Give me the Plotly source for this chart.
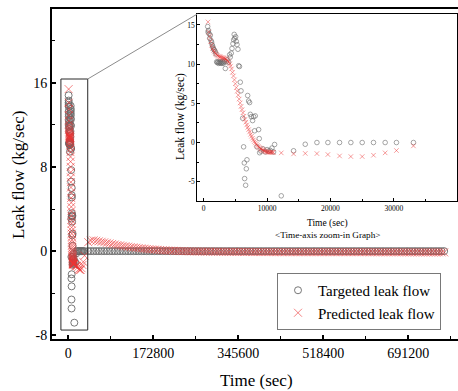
import plotly.graph_objects as go

# ---------------- data ----------------
# Targeted leak flow, early transient (sec, kg/sec)
target_time_early = [635, 690, 760, 845, 950, 1055, 1160, 1260, 1320, 1420, 1480, 1580, 1690, 1840, 1950,
                     2050, 2150, 2250, 2350, 2450, 2550, 2650, 2750, 2850, 2950, 3050, 3150, 3250, 3420,
                     3550, 3700, 3940, 4100, 4200, 4360, 4470, 4620, 4730, 4820, 4890, 5050, 5150, 5260,
                     5410, 5520, 5650, 5780, 5890, 6150, 6300, 6410, 6460, 6620, 6730, 6830, 6940, 7090,
                     7250, 7360, 7510, 7720, 7880, 8040, 8140, 8400, 8670, 8770, 8830, 9040, 9350, 9720,
                     10000, 10240, 10500, 10770, 11030, 11190, 12240, 14180, 16020, 17860, 19590, 21430,
                     23210, 25000, 26780, 28620, 30400, 33080]
target_flow_early = [14.8, 14.1, 14.3, 13.9, 13.3, 13.7, 13.0, 12.8, 12.5, 12.3, 12.1, 11.9, 11.8, 11.6, 11.3,
                     10.3, 10.2, 10.3, 10.1, 10.25, 10.15, 10.3, 10.1, 10.2, 10.35, 10.1, 10.2, 10.4, 9.45,
                     10.3, 10.55, 10.25, 11.2, 10.9, 11.4, 12.0, 12.6, 13.1, 13.8, 13.3, 13.5, 12.9, 12.5,
                     11.9, 9.8, 9.7, 7.7, 6.6, 3.1, -0.55, -2.6, -4.6, -5.45, -3.35, -2.2, 6.0, 5.3,
                     5.1, 3.6, 3.3, 2.8, 3.3, 1.5, 3.4, -0.55, 1.65, 0.5, -1.3, -1.1, -0.8, -1.2,
                     -0.9, -1.1, -1.0, -0.7, -1.2, -0.25, -6.8, -1.05, -0.22, 0.0, 0.0, 0.0,
                     0.0, 0.0, 0.0, 0.0, 0.0, 0.0]

# Predicted leak flow, early transient
pred_time_early = [688, 800, 950, 1100, 1250, 1400, 1550, 1700, 1850, 2000, 2150, 2300, 2450, 2600, 2750,
                   2900, 3050, 3200, 3350, 3500, 3650, 3800, 3950, 4100, 4250, 4400, 4550, 4700, 4850,
                   5000, 5150, 5300, 5450, 5600, 5750, 5900, 6050, 6200, 6350, 6500, 6650, 6800, 6950,
                   7100, 7250, 7400, 7550, 7700, 7850, 8000, 8150, 8300, 8450, 8600, 8750, 8900, 9050,
                   9200, 9350, 9500, 9650, 9800, 9950, 10100, 10250, 10400, 10550, 10700, 10850, 11000,
                   12240, 14180, 16020, 17860, 19590, 21430, 23210, 25000, 26780, 28620, 30400, 33080]
pred_flow_early = [15.39, 14.1, 13.5, 12.9, 12.4, 12.0, 11.75, 11.55, 11.35, 11.25, 11.12, 11.02, 10.98, 10.93, 10.88,
                   10.84, 10.81, 10.77, 10.72, 10.65, 10.55, 10.42, 10.28, 10.05, 9.75, 9.4, 8.95, 8.5, 8.0,
                   7.5, 7.0, 6.55, 6.05, 5.55, 5.05, 4.6, 4.2, 3.8, 3.35, 2.95, 2.6, 2.25, 1.95,
                   1.65, 1.35, 1.05, 0.8, 0.55, 0.33, 0.13, -0.05, -0.22, -0.38, -0.5, -0.62, -0.72, -0.82,
                   -0.9, -0.97, -1.04, -1.1, -1.15, -1.19, -1.21, -1.23, -1.24, -1.25, -1.25, -1.25, -1.25,
                   -1.32, -1.45, -1.39, -1.41, -1.53, -1.71, -1.79, -1.79, -1.62, -1.32, -1.02, -0.43]

# Long-term record (sec)
time_long = [40500, 45900, 51300, 56700, 62100, 67500, 72900, 78300, 83700, 89100,
             94500, 99900, 105300, 110700, 116100, 121500, 126900, 132300, 137700, 143100,
             148500, 153900, 159300, 164700, 170100, 175500, 180900, 186300, 191700, 197100,
             202500, 207900, 213300, 218700, 224100, 229500, 234900, 240300, 245700, 251100,
             256500, 261900, 267300, 272700, 278100, 283500, 288900, 294300, 299700, 305100,
             310500, 315900, 321300, 326700, 332100, 337500, 342900, 348300, 353700, 359100,
             364500, 369900, 375300, 380700, 386100, 391500, 396900, 402300, 407700, 413100,
             418500, 423900, 429300, 434700, 440100, 445500, 450900, 456300, 461700, 467100,
             472500, 477900, 483300, 488700, 494100, 499500, 504900, 510300, 515700, 521100,
             526500, 531900, 537300, 542700, 548100, 553500, 558900, 564300, 569700, 575100,
             580500, 585900, 591300, 596700, 602100, 607500, 612900, 618300, 623700, 629100,
             634500, 639900, 645300, 650700, 656100, 661500, 666900, 672300, 677700, 683100,
             688500, 693900, 699300, 704700, 710100, 715500, 720900, 726300, 731700, 737100,
             742500, 747900, 753300, 758700, 764100]
target_flow_long = [0.0, 0.0, 0.0, 0.0, 0.0, 0.0, 0.0, 0.0, 0.0, 0.0,
                    0.0, 0.0, 0.0, 0.0, 0.0, 0.0, 0.0, 0.0, 0.0, 0.0,
                    0.0, 0.0, 0.0, 0.0, 0.0, 0.0, 0.0, 0.0, 0.0, 0.0,
                    0.0, 0.0, 0.0, 0.0, 0.0, 0.0, 0.0, 0.0, 0.0, 0.0,
                    0.0, 0.0, 0.0, 0.0, 0.0, 0.0, 0.0, 0.0, 0.0, 0.0,
                    0.0, 0.0, 0.0, 0.0, 0.0, 0.0, 0.0, 0.0, 0.0, 0.0,
                    0.0, 0.0, 0.0, 0.0, 0.0, 0.0, 0.0, 0.0, 0.0, 0.0,
                    0.0, 0.0, 0.0, 0.0, 0.0, 0.0, 0.0, 0.0, 0.0, 0.0,
                    0.0, 0.0, 0.0, 0.0, 0.0, 0.0, 0.0, 0.0, 0.0, 0.0,
                    0.0, 0.0, 0.0, 0.0, 0.0, 0.0, 0.0, 0.0, 0.0, 0.0,
                    0.0, 0.0, 0.0, 0.0, 0.0, 0.0, 0.0, 0.0, 0.0, 0.0,
                    0.0, 0.0, 0.0, 0.0, 0.0, 0.0, 0.0, 0.0, 0.0, 0.0,
                    0.0, 0.0, 0.0, 0.0, 0.0, 0.0, 0.0, 0.0, 0.0, 0.0,
                    0.0, 0.0, 0.0, 0.0, 0.0]
pred_flow_long = [0.85, 1.0, 1.02, 0.98, 0.93, 0.88, 0.83, 0.78, 0.73, 0.68,
                  0.63, 0.58, 0.54, 0.5, 0.46, 0.42, 0.38, 0.35, 0.32, 0.29,
                  0.26, 0.23, 0.2, 0.18, 0.16, 0.14, 0.12, 0.1, 0.08, 0.07,
                  0.05, 0.04, 0.03, 0.02, 0.01, 0.0, 0.0, -0.01, -0.02, -0.02,
                  -0.03, -0.03, -0.04, -0.04, -0.05, -0.05, -0.05, -0.06, -0.06, -0.06,
                  -0.06, -0.07, -0.07, -0.07, -0.07, -0.07, -0.08, -0.08, -0.08, -0.08,
                  -0.08, -0.08, -0.09, -0.09, -0.09, -0.09, -0.09, -0.09, -0.09, -0.09,
                  -0.1, -0.1, -0.1, -0.1, -0.1, -0.1, -0.1, -0.1, -0.1, -0.1,
                  -0.1, -0.1, -0.1, -0.1, -0.1, -0.1, -0.1, -0.1, -0.1, -0.1,
                  -0.1, -0.1, -0.1, -0.1, -0.1, -0.1, -0.1, -0.1, -0.1, -0.1,
                  -0.1, -0.1, -0.1, -0.1, -0.1, -0.1, -0.11, -0.11, -0.11, -0.11,
                  -0.11, -0.11, -0.11, -0.11, -0.11, -0.11, -0.11, -0.11, -0.11, -0.11,
                  -0.12, -0.12, -0.12, -0.12, -0.12, -0.12, -0.12, -0.12, -0.12, -0.12,
                  -0.12, -0.12, -0.12, -0.12, -0.12]

target_time = target_time_early + time_long
target_flow = target_flow_early + target_flow_long
pred_time = pred_time_early + time_long
pred_flow = pred_flow_early + pred_flow_long

x_ticks_main = [0, 172800, 345600, 518400, 691200]
y_ticks_main = [-8, 0, 8, 16]
x_ticks_inset = [0, 10000, 20000, 30000]
y_ticks_inset = [-5, 0, 5, 10, 15]

# zoom window drawn on the main chart
zoom_box_x = [-15000, 39500]
zoom_box_y = [-7.5, 16.35]

# ---------------- layout geometry ----------------
W, H = 458, 391
ML, MR, MT, MB = 52, 0, 9, 52
PW, PH = W - ML - MR, H - MT - MB
FONT = "Liberation Serif"

X_RANGE = [-33140, 792230]
Y_RANGE = [-8.35, 23.0]
X2_RANGE = [-1000, 39900]
Y2_RANGE = [-7.46, 16.4]


def pxx(px):
    return (px - ML) / PW


def pxy(py):
    return (H - MB - py) / PH


inset_dom_x = [pxx(197.3), pxx(456.7)]
inset_dom_y = [pxy(201), pxy(14)]

CIRCLE_COLOR = "rgb(105,105,105)"
CROSS_COLOR = "rgba(236,50,50,0.6)"

fig = go.Figure()
# main chart
fig.add_trace(go.Scatter(x=target_time, y=target_flow, mode="markers", name="Targeted leak flow",
                         marker=dict(symbol="circle-open", size=7, color=CIRCLE_COLOR,
                                     line=dict(width=0.9, color=CIRCLE_COLOR)),
                         xaxis="x", yaxis="y"))
fig.add_trace(go.Scatter(x=pred_time, y=pred_flow, mode="markers", name="Predicted leak flow",
                         marker=dict(symbol="x-thin-open", size=8, color=CROSS_COLOR,
                                     line=dict(width=1, color=CROSS_COLOR)),
                         xaxis="x", yaxis="y"))
# inset
fig.add_trace(go.Scatter(x=target_time, y=target_flow, mode="markers", showlegend=False,
                         marker=dict(symbol="circle-open", size=4.6, color=CIRCLE_COLOR,
                                     line=dict(width=0.6, color=CIRCLE_COLOR)),
                         xaxis="x2", yaxis="y2"))
fig.add_trace(go.Scatter(x=pred_time, y=pred_flow, mode="markers", showlegend=False,
                         marker=dict(symbol="x-thin-open", size=4.5, color=CROSS_COLOR,
                                     line=dict(width=0.8, color=CROSS_COLOR)),
                         xaxis="x2", yaxis="y2"))

main_axis_common = dict(showgrid=False, zeroline=False, showline=True, linecolor="black", linewidth=2,
                        ticks="inside", ticklen=4, tickwidth=1.5, tickcolor="black",
                        tickfont=dict(family=FONT, size=14, color="black"))
inset_axis_common = dict(showgrid=False, zeroline=False, showline=True, linecolor="black", linewidth=1.2,
                         mirror=True, ticks="inside", ticklen=3, tickwidth=1, tickcolor="black",
                         tickfont=dict(family=FONT, size=7.5, color="black"))

fig.update_layout(
    width=W, height=H,
    margin=dict(l=ML, r=MR, t=MT, b=MB, pad=0),
    paper_bgcolor="white", plot_bgcolor="white",
    font=dict(family=FONT, color="black"),
    xaxis=dict(domain=[0, 1], range=X_RANGE, tickvals=x_ticks_main,
               ticktext=[str(v) for v in x_ticks_main], mirror=True,
               minor=dict(ticks="inside", dtick=86400, tick0=0, ticklen=3, tickwidth=1.2, tickcolor="black"),
               anchor="y", **main_axis_common),
    yaxis=dict(domain=[0, 1], range=Y_RANGE, tickvals=y_ticks_main,
               ticktext=[str(v) for v in y_ticks_main], mirror=False,
               minor=dict(ticks="inside", dtick=4, tick0=0, ticklen=3, tickwidth=1.2, tickcolor="black"),
               anchor="x", **main_axis_common),
    xaxis2=dict(domain=inset_dom_x, range=X2_RANGE, tickvals=x_ticks_inset,
                ticktext=[str(v) for v in x_ticks_inset],
                minor=dict(ticks="inside", dtick=5000, tick0=0, ticklen=2, tickwidth=0.8, tickcolor="black"),
                anchor="y2", **inset_axis_common),
    yaxis2=dict(domain=inset_dom_y, range=Y2_RANGE, tickvals=y_ticks_inset,
                ticktext=[str(v) for v in y_ticks_inset],
                minor=dict(ticks="inside", dtick=2.5, tick0=0, ticklen=2, tickwidth=0.8, tickcolor="black"),
                anchor="x2", **inset_axis_common),
    legend=dict(x=pxx(277), y=pxy(273), xanchor="left", yanchor="top",
                bgcolor="white", bordercolor="rgb(120,120,120)", borderwidth=1,
                font=dict(family=FONT, size=15, color="black"), tracegroupgap=0),
    showlegend=True,
)

# zoom box and connector
fig.add_shape(type="rect", xref="x", yref="y", x0=zoom_box_x[0], x1=zoom_box_x[1],
              y0=zoom_box_y[0], y1=zoom_box_y[1], line=dict(color="rgb(40,40,40)", width=1),
              layer="above")
bx = (zoom_box_x[1] - X_RANGE[0]) / (X_RANGE[1] - X_RANGE[0])
by = (zoom_box_y[1] - Y_RANGE[0]) / (Y_RANGE[1] - Y_RANGE[0])
fig.add_shape(type="line", xref="paper", yref="paper", x0=bx, y0=by, x1=inset_dom_x[0], y1=inset_dom_y[1],
              line=dict(color="rgb(140,140,140)", width=1))

# axis titles as annotations
ann = [
    dict(text="Leak flow (kg/sec)", x=pxx(18), y=pxy(175), textangle=-90, size=17),
    dict(text="Time (sec)", x=pxx(256), y=pxy(380), textangle=0, size=17),
    dict(text="Leak flow (kg/sec)", x=pxx(180), y=pxy(117), textangle=-90, size=11.5),
    dict(text="Time (sec)", x=pxx(327), y=pxy(223), textangle=0, size=9.5),
    dict(text="&lt;Time-axis zoom-in Graph&gt;", x=pxx(327), y=pxy(235), textangle=0, size=9.2),
]
for a in ann:
    fig.add_annotation(text=a["text"], x=a["x"], y=a["y"], xref="paper", yref="paper",
                       xanchor="center", yanchor="middle", showarrow=False, textangle=a["textangle"],
                       font=dict(family=FONT, size=a["size"], color="black"))

fig.write_html("out.html", config={"displayModeBar": False},
               post_script="document.body.style.margin='0';document.body.style.overflow='hidden';")
